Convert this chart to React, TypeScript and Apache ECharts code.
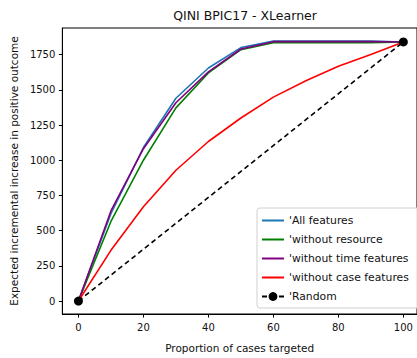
import React, { useEffect, useRef } from "react";
import * as echarts from "echarts";

const xValues = [0, 10, 20, 30, 40, 50, 60, 70, 80, 90, 100];
const allFeatures = [0, 620, 1090, 1440, 1655, 1800, 1846, 1846, 1846, 1846, 1840];
const withoutResource = [0, 565, 1000, 1372, 1620, 1785, 1834, 1834, 1834, 1834, 1840];
const withoutTime = [0, 640, 1082, 1408, 1627, 1790, 1842, 1842, 1842, 1842, 1840];
const withoutCase = [0, 360, 670, 929, 1133, 1300, 1448, 1565, 1667, 1750, 1840];
const randomX = [0, 100];
const randomY = [0, 1840];
const xTicks = [0, 20, 40, 60, 80, 100];
const yTicks = [0, 250, 500, 750, 1000, 1250, 1500, 1750];

const seriesNames = [
  "'All features",
  "'without resource",
  "'without time features",
  "'without case features",
  "'Random",
];

const FONT = "DejaVu Sans";
const LINE_ICON = "path://M0,0 L22,0 L22,2 L0,2 Z";

export default function App() {
  const ref = useRef<HTMLDivElement>(null);
  useEffect(() => {
    if (!ref.current) return;
    const chart = echarts.init(ref.current, undefined, { renderer: "svg" });
    const pair = (ys: number[]) => xValues.map((x, i) => [x, ys[i]]);
    const lineSeries = (name: string, ys: number[], color: string) => ({
      name,
      type: "line",
      data: pair(ys),
      showSymbol: false,
      symbol: "none",
      lineStyle: { color, width: 1.6 },
      itemStyle: { color },
    });
    chart.setOption({
      animation: false,
      textStyle: { fontFamily: FONT },
      title: {
        text: "QINI BPIC17 - XLearner",
        left: 240,
        top: 4,
        textAlign: "center",
        textStyle: { fontFamily: FONT, fontSize: 12.5, fontWeight: "normal", color: "#111" },
      },
      grid: {
        left: 62,
        top: 28,
        right: 0,
        bottom: 44,
        show: true,
        borderColor: "#000",
        borderWidth: 1,
      },
      xAxis: {
        type: "value",
        min: -4.95,
        max: 104.2,
        name: "Proportion of cases targeted",
        nameLocation: "middle",
        nameGap: 28,
        nameTextStyle: { fontFamily: FONT, fontSize: 10.5, color: "#111" },
        splitLine: { show: false },
        axisLine: { show: true, onZero: false, lineStyle: { color: "#000", width: 1 } },
        axisTick: { show: true, customValues: xTicks, length: 3.5, lineStyle: { color: "#000" } },
        axisLabel: { customValues: xTicks, fontFamily: FONT, fontSize: 10, color: "#111", margin: 8 },
      },
      yAxis: {
        type: "value",
        min: -92,
        max: 1939,
        name: "Expected incremental increase in positive outcome",
        nameLocation: "middle",
        nameGap: 36,
        nameTextStyle: { fontFamily: FONT, fontSize: 10.5, color: "#111" },
        splitLine: { show: false },
        axisLine: { show: true, onZero: false, lineStyle: { color: "#000", width: 1 } },
        axisTick: { show: true, customValues: yTicks, length: 3.5, lineStyle: { color: "#000" } },
        axisLabel: {
          customValues: yTicks,
          formatter: (v: number) => String(v),
          fontFamily: FONT,
          fontSize: 10,
          color: "#111",
          margin: 7,
        },
      },
      legend: {
        orient: "vertical",
        left: 257,
        top: 208,
        data: seriesNames.map((n, i) => (i < 4 ? { name: n, icon: LINE_ICON } : { name: n })),
        itemWidth: 22,
        itemHeight: 11,
        itemGap: 8,
        padding: [7, 14, 6, 4],
        backgroundColor: "rgba(255,255,255,0.85)",
        borderColor: "#d0d0d0",
        borderWidth: 1,
        borderRadius: 3,
        textStyle: { fontFamily: FONT, fontSize: 10.8, color: "#111" },
      },
      series: [
        lineSeries(seriesNames[0], allFeatures, "#1f77b4"),
        lineSeries(seriesNames[1], withoutResource, "#008000"),
        lineSeries(seriesNames[2], withoutTime, "#800080"),
        lineSeries(seriesNames[3], withoutCase, "#ff0000"),
        {
          name: seriesNames[4],
          type: "line",
          data: randomX.map((x, i) => [x, randomY[i]]),
          symbol: "circle",
          symbolSize: 9,
          showSymbol: true,
          lineStyle: { color: "#000", width: 1.6, type: [5, 3.5] },
          itemStyle: { color: "#000" },
        },
      ],
    });
    return () => chart.dispose();
  }, []);
  return (
    <div
      ref={ref}
      style={{ position: "fixed", left: 0, top: 0, width: 417, height: 358, background: "#fff" }}
    />
  );
}
